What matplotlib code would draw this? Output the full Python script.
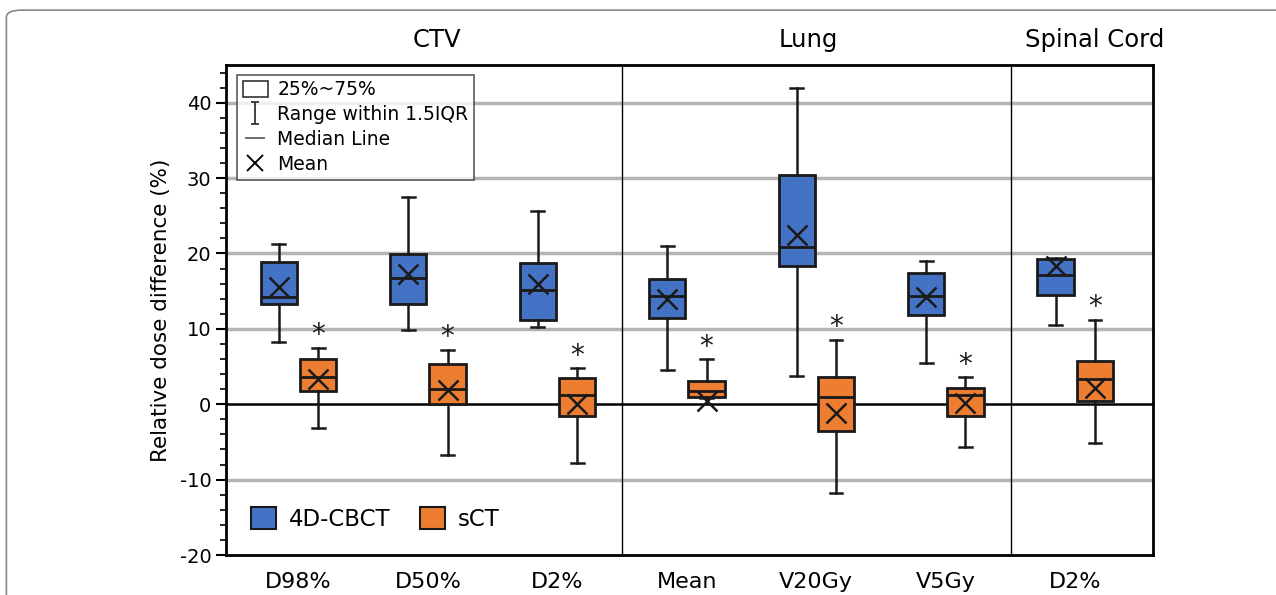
import numpy as np
import matplotlib
matplotlib.use('Agg')
import matplotlib.pyplot as plt
from matplotlib.path import Path
from matplotlib.lines import Line2D
from matplotlib.patches import Patch, FancyBboxPatch
import matplotlib.transforms as mtransforms

plt.rcParams['axes.unicode_minus'] = False

#-----------------------------------------------------------------------------------------------------------------------
# Data
#-----------------------------------------------------------------------------------------------------------------------
metrics = ['D98%', 'D50%', 'D2%', 'Mean', 'V20Gy', 'V5Gy', 'D2%']
groups = ['CTV', 'Lung', 'Spinal Cord']
group_x = [1.07, 3.94, 6.15]

# 4D-CBCT
cbct_whislo = [8.2, 9.8, 10.3, 4.5, 3.7, 5.5, 10.5]
cbct_q1 = [13.3, 13.3, 11.2, 11.4, 18.3, 11.9, 14.5]
cbct_med = [14.2, 16.8, 15.1, 14.3, 20.9, 14.4, 17.2]
cbct_q3 = [18.8, 19.9, 18.75, 16.6, 30.4, 17.4, 19.2]
cbct_whishi = [21.3, 27.5, 25.6, 21.0, 41.9, 19.0, 19.4]
cbct_mean = [15.5, 17.3, 16.0, 14.0, 22.4, 14.2, 18.4]

# sCT
sct_whislo = [-3.1, -6.7, -7.8, 0.8, -11.8, -5.7, -5.2]
sct_q1 = [1.8, 0.0, -1.5, 1.0, -3.55, -1.5, 0.45]
sct_med = [3.55, 2.0, 1.2, 1.7, 1.0, 1.25, 3.3]
sct_q3 = [6.0, 5.4, 3.5, 3.1, 3.6, 2.2, 5.75]
sct_whishi = [7.5, 7.2, 4.8, 6.0, 8.55, 3.6, 11.2]
sct_mean = [3.3, 1.9, 0.0, 0.45, -1.1, 0.2, 2.2]

blue = '#4472C4'
orange = '#ED7D31'


def make_stats(lo, q1, med, q3, hi, mean):
    stats = []
    for i in range(len(lo)):
        stats.append({'whislo': lo[i], 'q1': q1[i], 'med': med[i], 'q3': q3[i],
                      'whishi': hi[i], 'mean': mean[i], 'fliers': []})
    return stats


#-----------------------------------------------------------------------------------------------------------------------
# Plot
#-----------------------------------------------------------------------------------------------------------------------
fig = plt.figure(figsize=(12.76, 5.95), dpi=100)
ax = fig.add_axes([0.177, 0.0672, 0.7266, 0.8236])

x = np.arange(len(metrics))
off = 0.152
bw = 0.28

for stats, pos, col in [(make_stats(cbct_whislo, cbct_q1, cbct_med, cbct_q3, cbct_whishi, cbct_mean), x - off, blue),
                        (make_stats(sct_whislo, sct_q1, sct_med, sct_q3, sct_whishi, sct_mean), x + off, orange)]:
    ax.bxp(stats, positions=pos, widths=bw, patch_artist=True, showmeans=True,
           showfliers=False, capwidths=0.1,
           boxprops=dict(facecolor=col, edgecolor='#1a1a1a', linewidth=2),
           medianprops=dict(color='#1a1a1a', linewidth=2),
           whiskerprops=dict(color='#1a1a1a', linewidth=1.8),
           capprops=dict(color='#1a1a1a', linewidth=1.8),
           meanprops=dict(marker='x', markeredgecolor='#1a1a1a', markersize=14, markeredgewidth=1.8),
           zorder=3)

# significance marks
for i in range(len(metrics)):
    ax.text(x[i] + off, sct_whishi[i] - 0.2, '*', ha='center', va='bottom', fontsize=20, color='#1a1a1a')

ax.set_xlim(-0.56, 6.6)
ax.set_ylim(-20, 45)
ax.set_yticks(np.arange(-20, 41, 10))
ax.set_yticks(np.arange(-20, 45, 2), minor=True)
ax.set_xticks(x)
ax.set_xticklabels(metrics, fontsize=16)
ax.tick_params(axis='x', length=0, pad=12)
ax.tick_params(axis='y', which='major', length=7, width=1.5, labelsize=14, direction='out')
ax.tick_params(axis='y', which='minor', length=4, width=1.2, direction='out')

for v in [40, 30, 20, 10, -10]:
    ax.axhline(v, color='#b4b4b4', linewidth=2.5, zorder=0)
ax.axhline(0, color='black', linewidth=1.8, zorder=1)
ax.axvline(2.5, color='black', linewidth=1.0, zorder=1)
ax.axvline(5.5, color='black', linewidth=1.0, zorder=1)

for s in ax.spines.values():
    s.set_linewidth(2)

ax.set_ylabel('Relative dose difference (%)', fontsize=15.5, labelpad=6)

trans = mtransforms.blended_transform_factory(ax.transData, fig.transFigure)
for gx, g in zip(group_x, groups):
    ax.text(gx, 0.933, g, transform=trans, ha='center', va='center', fontsize=17.5)

# legend with box description
ibeam = Path([(-0.35, 1), (0.35, 1), (0, 1), (0, -1), (-0.35, -1), (0.35, -1)],
             [Path.MOVETO, Path.LINETO, Path.MOVETO, Path.LINETO, Path.MOVETO, Path.LINETO])
h1 = [Patch(facecolor='white', edgecolor='#333333', linewidth=1.2),
      Line2D([], [], marker=ibeam, linestyle='none', color='#333333', markersize=16, markeredgewidth=1.3),
      Line2D([], [], marker='_', linestyle='none', color='#555555', markersize=14, markeredgewidth=1.2),
      Line2D([], [], marker='x', linestyle='none', color='black', markersize=12, markeredgewidth=1.4)]
l1 = ax.legend(h1, ['25%~75%', 'Range within 1.5IQR', 'Median Line', 'Mean'],
               loc='upper left', bbox_to_anchor=(0.012, 0.98), fontsize=13.5, frameon=True, fancybox=False,
               handlelength=1.35, handleheight=0.9, handletextpad=0.5, borderpad=0.3, labelspacing=0.32,
               borderaxespad=0)
l1.get_frame().set_edgecolor('#333333')
l1.get_frame().set_linewidth(1.2)
ax.add_artist(l1)

h2 = [Patch(facecolor=blue, edgecolor='#1a1a1a', linewidth=1.5),
      Patch(facecolor=orange, edgecolor='#1a1a1a', linewidth=1.5)]
ax.legend(h2, ['4D-CBCT', 'sCT'], loc='lower left', bbox_to_anchor=(0.027, 0.05), ncol=2, frameon=False,
          fontsize=16.5, handlelength=1.1, handleheight=1.1, handletextpad=0.55, columnspacing=1.3,
          borderpad=0, borderaxespad=0)

# card border of the figure
fig.patches.append(FancyBboxPatch((0.005, -0.1), 1.1, 1.083, boxstyle='round,pad=0,rounding_size=0.012',
                                  transform=fig.transFigure, facecolor='none', edgecolor='#888888',
                                  linewidth=1.2))

fig.savefig('out.png', dpi=100)
